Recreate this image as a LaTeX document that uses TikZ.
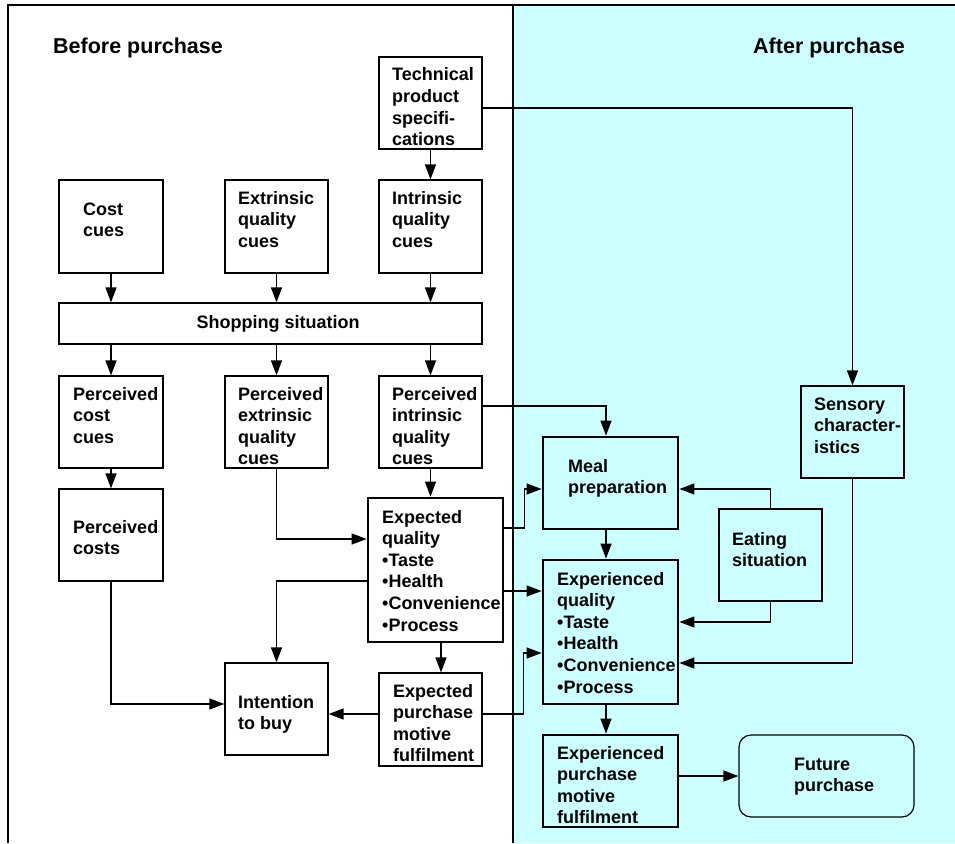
\documentclass[tikz,border=0pt]{standalone}
\usepackage{fontspec}
\setmainfont{Liberation Sans}
\usetikzlibrary{arrows.meta,calc}
\definecolor{aqua}{HTML}{CCFFFF}
\newcommand{\mlines}[1]{\begin{tabular}[t]{@{}l@{}}#1\end{tabular}}
\begin{document}
\begin{tikzpicture}[x=1pt,y=-1pt,
  box/.style={draw, line width=1.2pt, inner sep=0pt, rectangle},
  thickbox/.style={draw, line width=2.8pt, inner sep=0pt, rectangle},
  txt/.style={inner sep=0pt, anchor=base west, font=\fontsize{18}{21.6}\selectfont\bfseries},
  title/.style={inner sep=0pt, anchor=base west, font=\fontsize{21.5}{25}\selectfont\bfseries},
  arr/.style={line width=1.3pt, -{Triangle[length=15pt,width=11pt]}},
  ln/.style={line width=1.3pt}]
\useasboundingbox (0,0) rectangle (955,843);
% background panels
\fill[aqua] (513,5) rectangle (955,843);
\draw[line width=1.5pt] (8,843) -- (8,5) -- (955,5);
\draw[line width=1.5pt] (513,5) -- (513,843);

\node[title] (tBefore) at (53,53) {Before purchase};
\node[title] (tAfter) at (753,53) {After purchase};

% boxes
\node[box, minimum width=103pt, minimum height=92pt] (tech) at (430.5,103) {};
\node[box, minimum width=104pt, minimum height=93pt] (cost) at (111,226.5) {};
\node[box, minimum width=103pt, minimum height=93pt] (extr) at (276.5,226.5) {};
\node[box, minimum width=103pt, minimum height=93pt] (intr) at (430.5,226.5) {};
\node[box, minimum width=423pt, minimum height=41pt] (shop) at (270.5,323.5) {};
\node[box, minimum width=104pt, minimum height=92pt] (pcost) at (111,422) {};
\node[box, minimum width=103pt, minimum height=92pt] (pextr) at (276.5,422) {};
\node[box, minimum width=103pt, minimum height=92pt] (pintr) at (430.5,422) {};
\node[box, minimum width=104pt, minimum height=92pt] (pcosts) at (111,535) {};
\node[thickbox, minimum width=135pt, minimum height=144pt] (expq) at (435.5,570) {};
\node[box, minimum width=103pt, minimum height=92pt] (intent) at (276.5,709) {};
\node[box, minimum width=103pt, minimum height=93pt] (epmf) at (430.5,719.5) {};
\node[thickbox, minimum width=135pt, minimum height=92pt] (meal) at (610.5,483) {};
\node[box, minimum width=103pt, minimum height=92pt] (sens) at (852.5,432) {};
\node[box, minimum width=103pt, minimum height=92pt] (eat) at (770.5,555) {};
\node[thickbox, minimum width=135pt, minimum height=144pt] (expq2) at (610.5,632) {};
\node[thickbox, minimum width=135pt, minimum height=92pt] (epmf2) at (610.5,781) {};
\node[box, rounded corners=12pt, minimum width=175pt, minimum height=82pt] (future) at (826.5,776) {};

% texts
\node[txt] (xTech) at (392,81) {\mlines{Technical\\product\\specifi-\\cations}};
\node[txt] (xCost) at (83,215) {\mlines{Cost\\cues}};
\node[txt] (xExtr) at (238,204) {\mlines{Extrinsic\\quality\\cues}};
\node[txt] (xIntr) at (392,204) {\mlines{Intrinsic\\quality\\cues}};
\node[txt, anchor=base] (xShop) at (278,328) {Shopping situation};
\node[txt] (xPcost) at (73,400) {\mlines{Perceived\\cost\\cues}};
\node[txt] (xPextr) at (238,400) {\mlines{Perceived\\extrinsic\\quality\\cues}};
\node[txt] (xPintr) at (392,400) {\mlines{Perceived\\intrinsic\\quality\\cues}};
\node[txt] (xPcosts) at (73,533) {\mlines{Perceived\\costs}};
\node[txt] (xExpq) at (382,523) {\mlines{Expected\\quality\\•Taste\\•Health\\•Convenience\\•Process}};
\node[txt] (xIntent) at (238,708) {\mlines{Intention\\to buy}};
\node[txt] (xEpmf) at (393,697) {\mlines{Expected\\purchase\\motive\\fulfilment}};
\node[txt] (xMeal) at (568,472) {\mlines{Meal\\preparation}};
\node[txt] (xSens) at (814,410) {\mlines{Sensory\\character-\\istics}};
\node[txt] (xEat) at (732,545) {\mlines{Eating\\situation}};
\node[txt] (xExpq2) at (557,585) {\mlines{Experienced\\quality\\•Taste\\•Health\\•Convenience\\•Process}};
\node[txt] (xEpmf2) at (557,759) {\mlines{Experienced\\purchase\\motive\\fulfilment}};
\node[txt] (xFuture) at (794,770) {\mlines{Future\\purchase}};

% connectors
\draw[arr] (tech.south) -- (intr.north);
\draw[arr] ($(tech.east)+(0,5)$) -| (sens.north);
\draw[arr] (cost.south) -- (cost.south |- shop.north);
\draw[arr] (extr.south) -- (extr.south |- shop.north);
\draw[arr] (intr.south) -- (intr.south |- shop.north);
\draw[arr] (pcost.north |- shop.south) -- (pcost.north);
\draw[arr] (pextr.north |- shop.south) -- (pextr.north);
\draw[arr] (pintr.north |- shop.south) -- (pintr.north);
\draw[arr] (pcost.south) -- (pcosts.north);
\draw[arr] (pextr.south) |- ($(expq.west)+(0,-31)$);
\draw[arr] (pintr.south) -- (pintr.south |- expq.north);
\draw[arr] ($(pintr.east)+(0,-16)$) -| ($(meal.north)+(-4.5,0)$);
\draw[arr] ($(expq.east)+(0,-42)$) -- ++(20,0) |- ($(meal.west)+(0,6)$);
\draw[arr] (eat.north) |- ($(meal.east)+(0,6)$);
\draw[arr] ($(meal.south)+(-4.5,0)$) -- ($(expq2.north)+(-4.5,0)$);
\draw[arr] ($(expq.east)+(0,21)$) -- ($(expq2.west)+(0,-41)$);
\draw[arr] (eat.south) |- ($(expq2.east)+(0,-10)$);
\draw[arr] (sens.south) |- ($(expq2.east)+(0,31)$);
\draw[arr] ($(epmf.east)+(0,-5.5)$) -- ++(41,0) |- ($(expq2.west)+(0,21)$);
\draw[arr] ($(expq.south)+(5.5,0)$) -- ($(epmf.north)+(10.5,0)$);
\draw[arr] ($(expq.west)+(0,11)$) -| (intent.north);
\draw[arr] (pcosts.south) |- ($(intent.west)+(0,-5)$);
\draw[arr] ($(epmf.west)+(0,-5.5)$) -- ($(intent.east)+(0,5)$);
\draw[arr] ($(expq2.south)+(-4.5,0)$) -- ($(epmf2.north)+(-4.5,0)$);
\draw[arr] ($(epmf2.east)+(0,-5)$) -- (future.west);
\end{tikzpicture}
\end{document}
